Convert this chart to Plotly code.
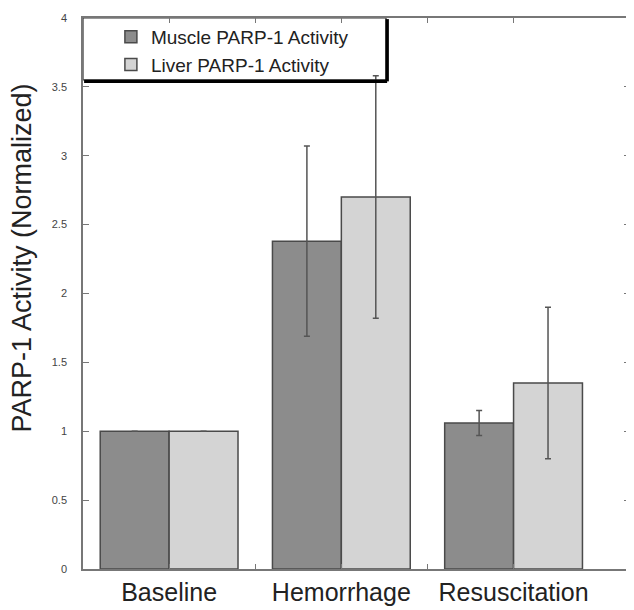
import plotly.graph_objects as go

categories = ["Baseline", "Hemorrhage", "Resuscitation"]
muscle = [1.0, 2.38, 1.06]
muscle_err = [0.0, 0.69, 0.09]
liver = [1.0, 2.70, 1.35]
liver_err = [0.0, 0.88, 0.55]
y_ticks = [0, 0.5, 1, 1.5, 2, 2.5, 3, 3.5, 4]
y_ticktext = ["0", "0.5", "1", "1.5", "2", "2.5", "3", "3.5", "4"]
y_title = "PARP-1 Activity (Normalized)"

xpos = list(range(len(categories)))
FONT = "Liberation Sans, Arial, sans-serif"

fig = go.Figure()
fig.add_trace(go.Bar(
    x=xpos, y=muscle, name="Muscle PARP-1 Activity",
    width=0.4, offset=-0.4,
    marker=dict(color="#8c8c8c", line=dict(color="#4a4a4a", width=1.5)),
    error_y=dict(type="data", array=muscle_err, visible=True, color="#555555", thickness=1.5, width=3),
))
fig.add_trace(go.Bar(
    x=xpos, y=liver, name="Liver PARP-1 Activity",
    width=0.4, offset=0,
    marker=dict(color="#d4d4d4", line=dict(color="#4a4a4a", width=1.5)),
    error_y=dict(type="data", array=liver_err, visible=True, color="#555555", thickness=1.5, width=3),
))

fig.update_layout(
    width=626, height=602,
    margin=dict(l=75, r=2, t=10, b=41),
    paper_bgcolor="white", plot_bgcolor="white",
    font=dict(family=FONT, color="#222222"),
    showlegend=True,
    legend=dict(
        x=0.051, y=1.0, xanchor="left", yanchor="top",
        bgcolor="rgba(0,0,0,0)", borderwidth=0,
        font=dict(size=19, family=FONT, color="#222222"),
        tracegroupgap=0, itemwidth=30,
    ),
    xaxis=dict(
        range=[-0.5, 2.676],
        tickmode="array",
        tickvals=[0, 0.5, 1, 1.5, 2],
        ticktext=[categories[0], "", categories[1], "", categories[2]],
        ticks="inside", ticklen=5, tickcolor="#777777",
        tickfont=dict(size=25, family=FONT, color="#222222"),
        showline=True, linecolor="#777777", linewidth=1.5, mirror="ticks",
        showgrid=False, zeroline=False,
    ),
    yaxis=dict(
        range=[0, 4],
        tickmode="array", tickvals=y_ticks, ticktext=y_ticktext,
        ticks="inside", ticklen=6, tickcolor="#777777",
        tickfont=dict(size=11, family=FONT, color="#444444"),
        ticklabelstandoff=12,
        showline=True, linecolor="#777777", linewidth=1.5, mirror="ticks",
        showgrid=False, zeroline=False,
    ),
    annotations=[
        dict(text=y_title, xref="paper", yref="paper", x=-0.111, y=0.564,
             xanchor="center", yanchor="middle", textangle=-90, showarrow=False,
             font=dict(size=27, family=FONT, color="#222222")),
    ],
    shapes=[
        dict(type="rect", xref="paper", yref="paper", x0=0, x1=0.554, y0=0.8875, y1=1.0,
             fillcolor="white", line=dict(color="#333333", width=1.2), layer="below"),
        dict(type="line", xref="paper", yref="paper", x0=0.002, x1=0.556, y0=0.885, y1=0.885,
             line=dict(color="black", width=3.5)),
        dict(type="line", xref="paper", yref="paper", x0=0.556, x1=0.556, y0=0.885, y1=0.998,
             line=dict(color="black", width=3.5)),
    ],
)

fig.write_html("out.html")
